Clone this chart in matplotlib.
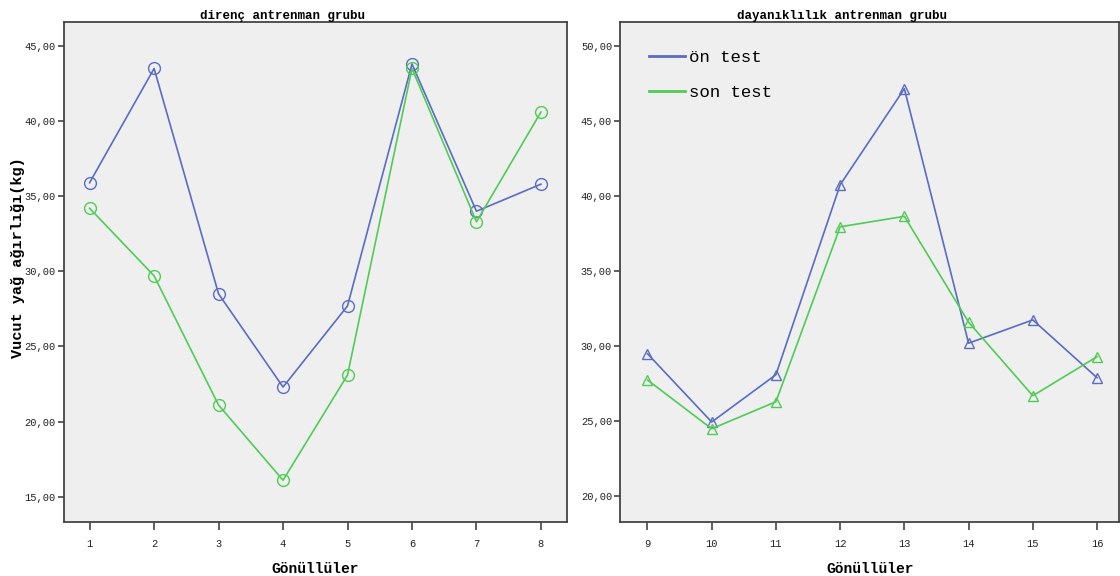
import numpy as np
import matplotlib
matplotlib.use('agg')
import matplotlib.pyplot as plt

# direnc antrenman grubu
direnc_x = [1, 2, 3, 4, 5, 6, 7, 8]
direnc_on = [35.9, 43.5, 28.5, 22.3, 27.7, 43.8, 34.0, 35.8]
direnc_son = [34.2, 29.7, 21.1, 16.1, 23.1, 43.5, 33.3, 40.6]

# dayaniklilik antrenman grubu
dayan_x = [9, 10, 11, 12, 13, 14, 15, 16]
dayan_on = [29.5, 24.95, 28.1, 40.75, 47.15, 30.2, 31.75, 27.9]
dayan_son = [27.75, 24.5, 26.3, 37.95, 38.65, 31.6, 26.7, 29.3]

left_ticks = [15, 20, 25, 30, 35, 40, 45]
right_ticks = [20, 25, 30, 35, 40, 45, 50]

BLUE = '#5a6cc4'
GREEN = '#4fcc55'
BG = '#efefef'
FONT = 'Liberation Mono'

plt.rcParams['font.family'] = [FONT, 'DejaVu Sans']

fig = plt.figure(figsize=(11.2, 5.76), dpi=100)
ax1 = fig.add_axes([0.057, 0.094, 0.449, 0.868])
ax2 = fig.add_axes([0.554, 0.094, 0.445, 0.868])


def fmt(v):
    return ('%.2f' % v).replace('.', ',')


def style(ax, xs, yt, ylim, xlim, title, title_x):
    ax.set_facecolor(BG)
    ax.set_xlim(*xlim)
    ax.set_ylim(*ylim)
    ax.set_xticks(xs)
    ax.set_xticklabels([str(x) for x in xs], fontsize=7.5, color='#222222')
    ax.set_yticks(yt)
    ax.set_yticklabels([fmt(v) for v in yt], fontsize=7.5, color='#222222')
    ax.tick_params(axis='x', direction='out', length=6, width=1.2, color='#444444', pad=6)
    ax.tick_params(axis='y', direction='out', length=4, width=1.2, color='#444444', pad=2)
    for s in ax.spines.values():
        s.set_color('#444444')
        s.set_linewidth(1.3)
    ax.set_title(title, fontsize=9, fontweight='bold', pad=2, x=title_x)
    ax.set_xlabel('Gönüllüler', fontsize=10.5, fontweight='bold', labelpad=10)


ax1.plot(direnc_x, direnc_on, color=BLUE, lw=1.2, marker='o', ms=8.5,
         mfc='none', mec=BLUE, mew=1.0, label='ön test')
ax1.plot(direnc_x, direnc_son, color=GREEN, lw=1.2, marker='o', ms=8.5,
         mfc='none', mec=GREEN, mew=1.0, label='son test')
style(ax1, direnc_x, left_ticks, (13.33, 46.6), (0.6, 8.4), 'direnç antrenman grubu', 0.435)
ax1.set_ylabel('Vucut yağ ağırlığı(kg)', fontsize=11, fontweight='bold')
ax1.yaxis.set_label_coords(-0.078, 0.528)

ax2.plot(dayan_x, dayan_on, color=BLUE, lw=1.2, marker='^', ms=7,
         mfc='none', mec=BLUE, mew=1.0, label='ön test')
ax2.plot(dayan_x, dayan_son, color=GREEN, lw=1.2, marker='^', ms=7,
         mfc='none', mec=GREEN, mew=1.0, label='son test')
style(ax2, dayan_x, right_ticks, (18.3, 51.6), (8.58, 16.34), 'dayanıklılık antrenman grubu', 0.444)

h1 = plt.Line2D([], [], color=BLUE, lw=2)
h2 = plt.Line2D([], [], color=GREEN, lw=2)
ax2.legend([h1, h2], ['ön test', 'son test'], loc='upper left', frameon=False,
           prop={'family': FONT, 'size': 12.5}, handlelength=2.1, handletextpad=0.25,
           labelspacing=1.15, bbox_to_anchor=(0.025, 0.975))

fig.savefig('out.png', dpi=100, facecolor='white')
